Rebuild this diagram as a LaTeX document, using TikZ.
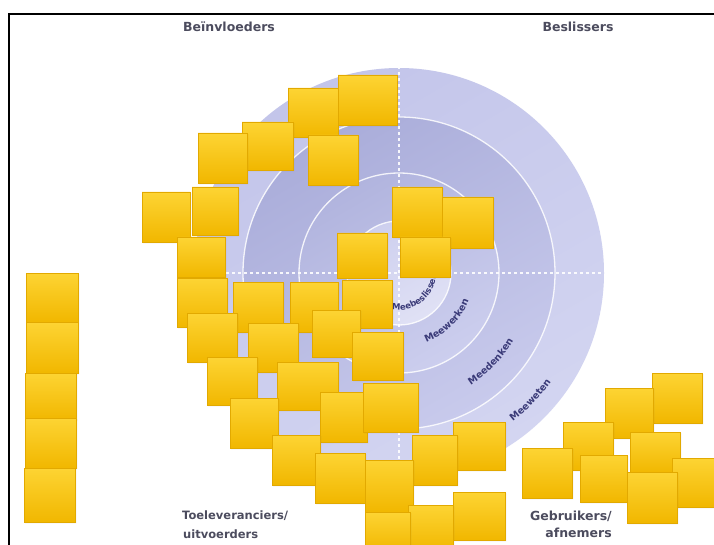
\documentclass[tikz,border=0pt]{standalone}
\usepackage{fontspec}
\setmainfont{DejaVu Sans}
\usetikzlibrary{shapes.misc,shadows,decorations.text,calc}
\definecolor{ringA1}{HTML}{C3C5EA}
\definecolor{ringA2}{HTML}{D3D5F1}
\definecolor{ringB1}{HTML}{AAADDA}
\definecolor{ringB2}{HTML}{C8CAEC}
\definecolor{ringC1}{HTML}{B1B4DE}
\definecolor{ringC2}{HTML}{CCCEEE}
\definecolor{ringD1}{HTML}{CDCFEE}
\definecolor{ringD2}{HTML}{E0E1F5}
\definecolor{noteTop}{HTML}{FDD433}
\definecolor{noteBot}{HTML}{F1B700}
\definecolor{noteEdge}{HTML}{E2A900}
\definecolor{labelgray}{HTML}{4C4C5E}
\definecolor{arcblue}{HTML}{3A3A78}
\tikzset{
  stickynote/.style={chamfered rectangle, chamfered rectangle corners=south east,
    chamfered rectangle xsep=4pt, chamfered rectangle ysep=4pt,
    top color=noteTop, bottom color=noteBot, draw=noteEdge, line width=0.4pt,
    inner sep=0pt, outer sep=0pt,
    drop shadow={shadow xshift=1.2pt, shadow yshift=-1.2pt, opacity=0.35, fill=black!60}},
  cornerlabel/.style={font=\bfseries\fontsize{11.5}{13}\selectfont, text=labelgray, inner sep=0pt},
  biglabel/.style={font=\bfseries\fontsize{12.5}{14}\selectfont, text=labelgray, inner sep=0pt},
  ringline/.style={white, line width=1.3pt, opacity=0.85},
  axisline/.style={white, line width=1.2pt, dash pattern=on 3pt off 3pt, opacity=0.9},
  framebar/.style={black, line width=2pt}
}
\newcommand\stickyat[5]{\node[stickynote, minimum width={(#4-#2)*1pt}, minimum height={(#5-#3)*1pt}] (#1) at ({(#2+#4)/2},{(#3+#5)/2}) {};}
\newcommand\arclabel[4]{\path[decorate, decoration={text along path, text color=arcblue, text align=center,
  text={|\bfseries\fontsize{#4}{#4}\selectfont|#1}}]
  ($(ctr)+(-#3:#2pt)$) arc[start angle=-#3, end angle=-#3+70, radius=#2pt];}
\begin{document}
\begin{tikzpicture}[x=1pt,y=-1pt]
\useasboundingbox (0,0) rectangle (714,545);
\clip (0,0) rectangle (714,545);
\fill[white] (0,0) rectangle (714,545);
\coordinate (ctr) at (399,273);
% rings
\shade[top color=ringA1, bottom color=ringA2, shading angle=30] (ctr) circle[radius=205pt];
\shade[top color=ringB1, bottom color=ringB2, shading angle=30] (ctr) circle[radius=156pt];
\shade[top color=ringC1, bottom color=ringC2, shading angle=30] (ctr) circle[radius=100pt];
\shade[top color=ringD1, bottom color=ringD2, shading angle=30] (ctr) circle[radius=52pt];
\draw[ringline] (ctr) circle[radius=156pt];
\draw[ringline] (ctr) circle[radius=100pt];
\draw[ringline] (ctr) circle[radius=52pt];
\coordinate (axN) at (399,66);
\coordinate (axS) at (399,478);
\coordinate (axW) at (196,273);
\coordinate (axE) at (604,273);
\draw[axisline] (axN) -- (axS);
\draw[axisline] (axW) -- (axE);
% ring labels
\path[decorate, decoration={text along path, text color=arcblue, text align=left,
  text={|\bfseries\fontsize{8.5}{8.5}\selectfont|Meebeslissen}}]
  ($(ctr)+(-101:37pt)$) arc[start angle=-101, end angle=40, radius=37pt];
\arclabel{Meewerken}{75}{80}{9.5}
\arclabel{Meedenken}{133}{79}{9.5}
\arclabel{Meeweten}{187}{79}{9.5}
% frame
\coordinate (fTL) at (9,14);
\coordinate (fTR) at (714,14);
\coordinate (fBL) at (9,545);
\draw[framebar] (fTR) -- (fTL) -- (fBL);
% corner labels
\node[biglabel] (lblBein) at (229,27) {Beïnvloeders};
\node[biglabel] (lblBes) at (578,27) {Beslissers};
\node[cornerlabel, anchor=west] (lblToe) at (182,516) {Toeleveranciers/};
\node[cornerlabel, anchor=west] (lblUit) at (183,534) {uitvoerders};
\node[biglabel, anchor=east] (lblGeb) at (612,516) {Gebruikers/};
\node[biglabel, anchor=east] (lblAfn) at (612,533) {afnemers};
% sticky notes - top cluster
\stickyat{t1}{288}{88}{338}{137}
\stickyat{t2}{338}{75}{397}{125}
\stickyat{t3}{242}{122}{293}{170}
\stickyat{t4}{198}{133}{247}{183}
\stickyat{t5}{308}{135}{358}{185}
% centre cluster
\stickyat{c1}{392}{187}{442}{237}
\stickyat{c2}{442}{197}{493}{248}
\stickyat{c3}{400}{237}{450}{277}
% left middle cluster
\stickyat{na}{142}{192}{190}{242}
\stickyat{nb}{192}{187}{238}{235}
\stickyat{nc}{177}{237}{225}{277}
\stickyat{ng}{337}{233}{387}{278}
\stickyat{nd}{177}{278}{227}{327}
\stickyat{ne}{233}{282}{283}{332}
\stickyat{nf}{290}{282}{338}{332}
\stickyat{nh}{342}{280}{392}{328}
\stickyat{ni}{187}{313}{237}{362}
\stickyat{nj}{248}{323}{298}{372}
\stickyat{nk}{312}{310}{360}{357}
\stickyat{nl}{352}{332}{403}{380}
\stickyat{nm}{207}{357}{257}{405}
\stickyat{nn}{277}{362}{338}{410}
\stickyat{no}{230}{398}{278}{448}
\stickyat{np}{320}{392}{367}{442}
\stickyat{nq}{363}{383}{418}{432}
\stickyat{nr}{272}{435}{320}{485}
\stickyat{nv}{453}{422}{505}{470}
\stickyat{nu}{412}{435}{457}{485}
\stickyat{ns}{315}{453}{365}{503}
\stickyat{nt}{365}{460}{413}{512}
\stickyat{ny}{453}{492}{505}{540}
\stickyat{nx}{408}{505}{453}{552}
\stickyat{nw}{365}{512}{410}{552}
% left column
\stickyat{L1}{26}{273}{78}{322}
\stickyat{L2}{26}{322}{78}{373}
\stickyat{L3}{25}{373}{76}{420}
\stickyat{L4}{25}{418}{76}{468}
\stickyat{L5}{24}{468}{75}{522}
% bottom right cluster
\stickyat{r1}{652}{373}{702}{423}
\stickyat{r2}{605}{388}{653}{438}
\stickyat{r3}{563}{422}{613}{470}
\stickyat{r4}{630}{432}{680}{473}
\stickyat{r5}{522}{448}{572}{498}
\stickyat{r6}{580}{455}{627}{502}
\stickyat{r7}{672}{458}{716}{507}
\stickyat{r8}{627}{472}{677}{523}
\end{tikzpicture}
\end{document}
